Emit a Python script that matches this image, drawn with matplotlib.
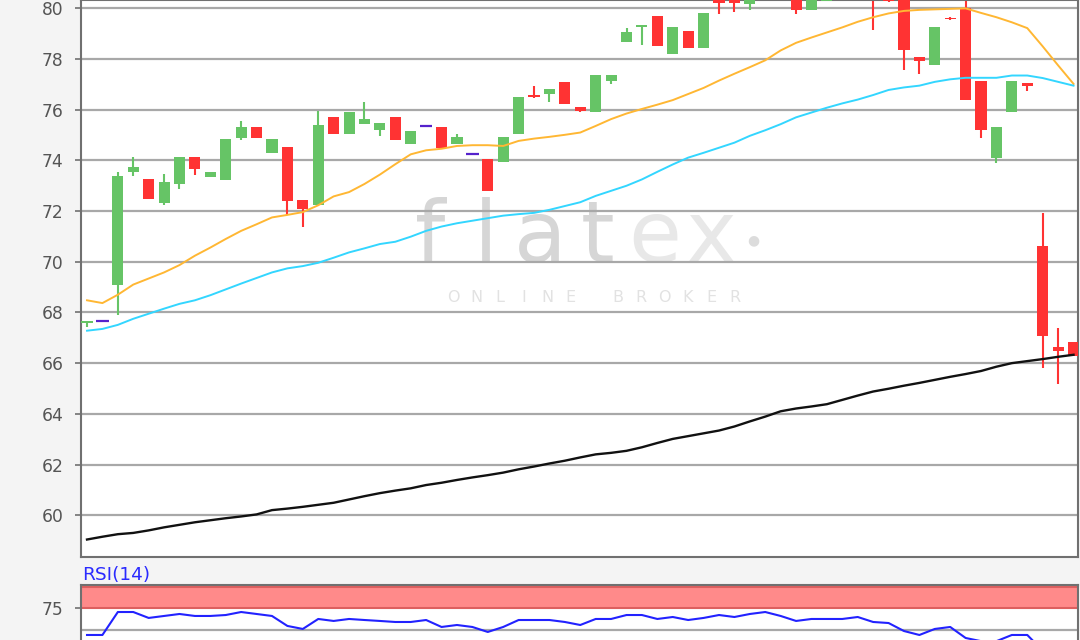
import matplotlib
matplotlib.use("Agg")
import matplotlib.pyplot as plt
import numpy as np

# daily candles (open, high, low, close), oldest first
opens = [67.60, 67.68, 69.07, 73.54, 73.25, 72.32, 73.05, 74.13, 73.35, 73.21,
         74.87, 75.32, 74.30, 74.53, 72.45, 72.25, 75.72, 75.03, 75.43, 75.19,
         75.72, 74.64, 75.36, 75.32, 74.64, 74.26, 74.04, 73.93, 75.03, 76.60,
         76.62, 77.09, 76.09, 75.93, 77.15, 78.68, 79.27, 79.70, 78.21, 79.11,
         78.45, 80.45, 80.40, 80.19, 80.50, 80.80, 80.60, 79.95, 80.28, 80.70,
         80.90, 80.80, 80.60, 80.80, 78.08, 77.75, 79.63, 80.00, 77.15, 74.08,
         75.92, 77.05, 70.64, 66.65, 66.82]
highs = [67.68, 67.68, 73.55, 74.13, 73.25, 73.48, 74.13, 74.13, 73.55, 74.83,
         75.56, 75.32, 74.83, 74.53, 72.45, 75.96, 75.72, 75.93, 76.29, 75.46,
         75.72, 75.17, 75.36, 75.32, 75.03, 74.26, 74.04, 74.93, 76.49, 76.95,
         76.82, 77.09, 76.09, 77.39, 77.39, 79.21, 79.36, 79.70, 79.27, 79.11,
         79.83, 80.60, 80.55, 80.50, 81.00, 81.20, 80.80, 80.50, 80.90, 81.10,
         81.30, 81.00, 80.70, 81.00, 78.08, 79.27, 79.67, 80.80, 77.15, 75.32,
         77.15, 77.05, 71.92, 67.38, 66.82]
lows = [67.42, 67.68, 67.88, 73.38, 72.49, 72.23, 72.88, 73.44, 73.35, 73.21,
        74.79, 74.87, 74.30, 71.85, 71.36, 72.25, 75.03, 75.03, 75.43, 74.97,
        74.79, 74.64, 75.36, 74.50, 74.64, 74.26, 72.81, 73.93, 75.03, 76.46,
        76.29, 76.23, 75.92, 75.93, 77.02, 78.68, 78.54, 78.52, 78.21, 78.45,
        78.45, 79.79, 79.85, 79.95, 80.40, 80.50, 79.76, 79.95, 80.28, 80.50,
        80.60, 79.16, 80.24, 77.58, 77.42, 77.75, 79.53, 76.38, 74.87, 73.91,
        75.92, 76.73, 65.80, 65.17, 66.29]
closes = [67.68, 67.68, 73.38, 73.73, 72.49, 73.15, 74.13, 73.68, 73.55, 74.83,
          75.30, 74.87, 74.83, 72.41, 72.09, 75.40, 75.03, 75.93, 75.63, 75.46,
          74.79, 75.17, 75.36, 74.50, 74.93, 74.26, 72.81, 74.93, 76.49, 76.52,
          76.82, 76.23, 75.96, 77.39, 77.39, 79.05, 79.36, 78.52, 79.27, 78.45,
          79.83, 80.21, 80.21, 80.35, 80.80, 80.60, 79.95, 80.40, 80.70, 80.90,
          80.70, 80.40, 80.28, 78.37, 77.92, 79.27, 79.57, 76.38, 75.19, 75.32,
          77.15, 76.95, 67.09, 66.47, 66.29]

# moving averages
sma_short = [68.48, 68.37, 68.70, 69.10, 69.34, 69.58, 69.87, 70.24, 70.56, 70.90,
             71.22, 71.48, 71.75, 71.85, 71.96, 72.23, 72.58, 72.75, 73.07, 73.44,
             73.85, 74.24, 74.40, 74.46, 74.57, 74.60, 74.60, 74.57, 74.77, 74.86,
             74.93, 75.01, 75.10, 75.36, 75.63, 75.85, 76.03, 76.20, 76.38, 76.62,
             76.86, 77.15, 77.42, 77.68, 77.95, 78.34, 78.64, 78.85, 79.05, 79.25,
             79.47, 79.65, 79.80, 79.90, 79.94, 79.96, 79.98, 80.00, 79.82, 79.65,
             79.45, 79.22, 78.50, 77.75, 77.02]
sma_mid = [67.28, 67.35, 67.51, 67.75, 67.95, 68.15, 68.34, 68.48, 68.68, 68.91,
           69.14, 69.36, 69.58, 69.74, 69.83, 69.96, 70.16, 70.37, 70.53, 70.70,
           70.79, 70.99, 71.22, 71.39, 71.52, 71.62, 71.72, 71.82, 71.88, 71.93,
           72.05, 72.20, 72.35, 72.60, 72.80, 73.00, 73.25, 73.55, 73.84, 74.11,
           74.30, 74.50, 74.70, 74.97, 75.19, 75.43, 75.70, 75.89, 76.08, 76.25,
           76.40, 76.58, 76.78, 76.88, 76.95, 77.10, 77.20, 77.26, 77.26, 77.26,
           77.35, 77.35, 77.25, 77.10, 76.95]
sma_long = [59.04, 59.15, 59.25, 59.30, 59.40, 59.52, 59.62, 59.72, 59.80, 59.88,
            59.95, 60.03, 60.20, 60.26, 60.33, 60.41, 60.49, 60.62, 60.75, 60.87,
            60.97, 61.06, 61.19, 61.28, 61.39, 61.49, 61.58, 61.68, 61.81, 61.92,
            62.04, 62.15, 62.28, 62.40, 62.46, 62.54, 62.68, 62.85, 63.01, 63.12,
            63.23, 63.34, 63.50, 63.70, 63.89, 64.10, 64.21, 64.29, 64.38, 64.55,
            64.72, 64.88, 64.99, 65.11, 65.22, 65.34, 65.46, 65.57, 65.69, 65.86,
            66.00, 66.08, 66.16, 66.25, 66.33]

# RSI(14)
rsi = [44.2, 44.2, 70.9, 70.9, 64.0, 66.3, 68.6, 66.3, 66.3, 67.4,
       70.9, 68.6, 66.3, 54.7, 51.2, 62.8, 60.5, 62.8, 61.6, 60.5,
       59.3, 59.3, 61.6, 53.5, 55.8, 53.5, 47.7, 53.5, 61.6, 61.6,
       61.6, 59.3, 55.8, 62.8, 62.8, 67.4, 67.4, 62.8, 65.1, 61.6,
       64.0, 67.4, 65.1, 68.6, 70.9, 66.3, 60.5, 62.8, 62.8, 62.8,
       65.1, 59.3, 58.1, 48.8, 44.2, 51.2, 53.5, 40.7, 37.0, 37.0,
       44.2, 44.2, 26.0, 25.0, 24.0]

ytick_vals = [60, 62, 64, 66, 68, 70, 72, 74, 76, 78, 80]

GREEN = "#66c466"
RED = "#ff3333"
DOJI = "#5522cc"
BG = "#f4f4f4"
GRID = "#a8a8a8"
SPINE = "#707070"

W, H = 1080, 640
fig = plt.figure(figsize=(10.8, 6.4), dpi=100, facecolor=BG)

# main price panel (top edge sits at the top of the image)
ax = fig.add_axes([81 / W, 1 - 557 / H, 997 / W, 557 / H])
ax.set_facecolor("white")
ax.set_xlim(-0.39, 64.29)
ax.set_ylim(58.35, 80.33)

x = np.arange(len(opens))
for i in x:
    o, h, l, c = opens[i], highs[i], lows[i], closes[i]
    if c > o:
        col = GREEN
    elif c < o:
        col = RED
    else:
        col = DOJI
    if col == DOJI:
        ax.hlines(o, i - 0.4, i + 0.4, color=col, lw=1.6, zorder=3)
        continue
    ax.vlines(i, l, h, color=col, lw=1.5, zorder=2)
    ax.bar(i, abs(c - o), bottom=min(o, c), width=0.72, color=col,
           linewidth=0, zorder=3)

ax.plot(x, sma_short, color="#ffb733", lw=1.4, zorder=4)
ax.plot(x, sma_mid, color="#33d6ff", lw=1.4, zorder=4)
ax.plot(x, sma_long, color="#111111", lw=1.7, zorder=4)

ax.set_yticks(ytick_vals)
ax.set_xticks([])
ax.grid(axis="y", color=GRID, lw=1.6)
ax.set_axisbelow(True)
ax.tick_params(axis="y", length=4, width=1.2, color=SPINE,
               labelcolor="#555555", labelsize=12.3, pad=8.5)
for s in ax.spines.values():
    s.set_color(SPINE)
    s.set_linewidth(1.5)

# watermark
def px(xp, yp):
    return (xp - 81) / 997, (557 - yp) / 557

for ch, xp, col in [("f", 430, "#d6d6d6"), ("l", 486, "#d6d6d6"),
                    ("a", 540, "#d6d6d6"), ("t", 598, "#d6d6d6"),
                    ("e", 655, "#e8e8e8"), ("x", 711, "#e8e8e8")]:
    ax.text(*px(xp, 262), ch, transform=ax.transAxes, ha="center",
            va="baseline", fontsize=62, color=col, zorder=0.3)
ax.text(*px(753, 240), "\u25cf", transform=ax.transAxes, ha="center",
        va="center", fontsize=10, color="#dcdcdc", zorder=0.3)
for k, ch in enumerate("ONLINE BROKER"):
    ax.text(*px(453 + k * 23.5, 298), ch, transform=ax.transAxes,
            ha="center", va="center", fontsize=11.5, color="#e2e2e2",
            zorder=0.3)

# RSI panel (runs past the bottom of the image)
ra = fig.add_axes([81 / W, 1 - 700 / H, 997 / W, 115 / H])
ra.set_facecolor("white")
ra.set_xlim(-0.39, 64.29)
ra.set_ylim(-31.4, 102.3)
ra.axhspan(75, 100, color="#ff8a8a", lw=0, zorder=1)
ra.axhline(75, color="#dd5f5f", lw=1.5, zorder=1.5)
ra.axhline(100, color="#dd5f5f", lw=1.5, zorder=1.5)
ra.axhline(50, color=GRID, lw=1.6, zorder=1)
ra.plot(x, rsi, color="#2222ff", lw=1.5, zorder=3)
ra.set_yticks([75])
ra.set_xticks([])
ra.tick_params(axis="y", length=4, width=1.2, color=SPINE,
               labelcolor="#555555", labelsize=12.3, pad=8.5)
for s in ra.spines.values():
    s.set_color(SPINE)
    s.set_linewidth(1.5)

fig.text(82 / W, 1 - 575 / H, "RSI(14)", color="#2a2aff", fontsize=13.3,
         va="center", ha="left")

fig.savefig("out.png", dpi=100, facecolor=BG)
